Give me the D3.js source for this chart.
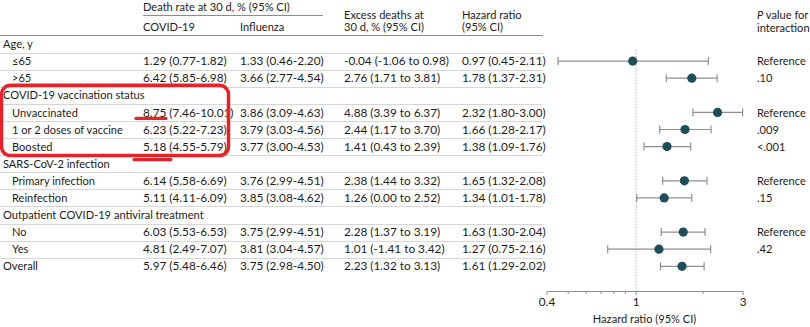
<!DOCTYPE html>
<html><head><meta charset="utf-8">
<script src="https://cdn.jsdelivr.net/npm/d3@7"></script>
<style>
html,body{margin:0;padding:0;background:#fff;}
svg text{font-family:Lato,"Open Sans",sans-serif;fill:#1e1b1c;}
</style></head>
<body><svg id="c" width="810" height="327"></svg>
<script>
// ---- data ----
const rowLabels = ["Age, y","≤65",">65","COVID-19 vaccination status","Unvaccinated","1 or 2 doses of vaccine","Boosted","SARS-CoV-2 infection","Primary infection","Reinfection","Outpatient COVID-19 antiviral treatment","No","Yes","Overall"];
const rowIndented = [false,true,true,false,true,true,true,false,true,true,false,true,true,false];
const covidRate = [null,1.29,6.42,null,8.75,6.23,5.18,null,6.14,5.11,null,6.03,4.81,5.97];
const covidLo   = [null,0.77,5.85,null,7.46,5.22,4.55,null,5.58,4.11,null,5.53,2.49,5.48];
const covidHi   = [null,1.82,6.98,null,10.01,7.23,5.79,null,6.69,6.09,null,6.53,7.07,6.46];
const fluRate = [null,1.33,3.66,null,3.86,3.79,3.77,null,3.76,3.85,null,3.75,3.81,3.75];
const fluLo   = [null,0.46,2.77,null,3.09,3.03,3.00,null,2.99,3.08,null,2.99,3.04,2.98];
const fluHi   = [null,2.20,4.54,null,4.63,4.56,4.53,null,4.51,4.62,null,4.51,4.57,4.50];
const excess   = [null,-0.04,2.76,null,4.88,2.44,1.41,null,2.38,1.26,null,2.28,1.01,2.23];
const excessLo = [null,-1.06,1.71,null,3.39,1.17,0.43,null,1.44,0.00,null,1.37,-1.41,1.32];
const excessHi = [null,0.98,3.81,null,6.37,3.70,2.39,null,3.32,2.52,null,3.19,3.42,3.13];
const hr   = [null,0.97,1.78,null,2.32,1.66,1.38,null,1.65,1.34,null,1.63,1.27,1.61];
const hrLo = [null,0.45,1.37,null,1.80,1.28,1.09,null,1.32,1.01,null,1.30,0.75,1.29];
const hrHi = [null,2.11,2.31,null,3.00,2.17,1.76,null,2.08,1.78,null,2.04,2.16,2.02];
const pValues = [null,"Reference",".10",null,"Reference",".009","<.001",null,"Reference",".15",null,"Reference",".42",null];
const axisTickLabels = [0.4,1,3];
const minorTicks = [0.5,0.6,0.7,0.8,0.9,2];

// ---- layout ----
const svg = d3.select("#c");
const FS = 11.8;
const SX = 0.94; // horizontal condensing for word texts
const f = v => v.toFixed(2);
const rowIdx = d3.range(rowLabels.length);
const y = d3.scaleLinear().domain([0, rowLabels.length-1]).range([44, 266.3]);
const x = d3.scaleLog().domain([0.4,3]).range([546.5,742.6]);
const step = y(1)-y(0);
const tableRight = 543;
const colX = {covid:143, flu:240, exc:344, hr:462, p:757};

function txt(g, xx, yy, s, opts={}) {
  const sx = opts.sx||1;
  const t = g.append("text").attr("x",0).attr("y",0).attr("dy","0.35em")
    .attr("transform",`translate(${xx},${yy}) scale(${sx},1)`)
    .style("font-size",(opts.size||FS)+"px");
  if (s!==null) t.text(s);
  if (opts.anchor) t.attr("text-anchor",opts.anchor);
  return t;
}

// header
const H = svg.append("g");
txt(H, colX.covid, 7, "Death rate at 30 d, % (95% CI)", {sx:SX});
H.append("line").attr("x1",colX.covid).attr("x2",323).attr("y1",15.5).attr("y2",15.5).attr("stroke","#8c8c8c").attr("stroke-width",1);
txt(H, colX.covid, 27, "COVID-19", {sx:SX});
txt(H, colX.flu, 27, "Influenza", {sx:SX});
txt(H, colX.exc, 14.5, "Excess deaths at", {sx:SX});
txt(H, colX.exc, 27, "30 d, % (95% CI)", {sx:SX});
txt(H, colX.hr, 14.5, "Hazard ratio", {sx:SX});
txt(H, colX.hr, 27, "(95% CI)", {sx:SX});
const pt = txt(H, colX.p, 14.5, null, {sx:SX});
pt.append("tspan").style("font-style","italic").text("P");
pt.append("tspan").text(" value for");
txt(H, colX.p, 28, "interaction", {sx:SX});
H.append("line").attr("x1",0).attr("x2",tableRight).attr("y1",35.5).attr("y2",35.5).attr("stroke","#8c8c8c").attr("stroke-width",1);

// separators
svg.append("g").selectAll("line").data(rowIdx.slice(0,-1)).join("line")
  .attr("x1",0).attr("x2",tableRight)
  .attr("y1",i=>Math.round(y(i)+step/2)+0.5).attr("y2",i=>Math.round(y(i)+step/2)+0.5)
  .attr("stroke","#d6d6d6").attr("stroke-width",1);

// table text
const T = svg.append("g");
rowIdx.forEach(i=>{
  const yy = y(i);
  txt(T, rowIndented[i]?12:3, yy, rowLabels[i], {sx:SX});
  if (covidRate[i]!==null) {
    txt(T, colX.covid, yy, `${f(covidRate[i])} (${f(covidLo[i])}-${f(covidHi[i])})`);
    txt(T, colX.flu, yy, `${f(fluRate[i])} (${f(fluLo[i])}-${f(fluHi[i])})`);
    txt(T, colX.exc, yy, `${f(excess[i])} (${f(excessLo[i])} to ${f(excessHi[i])})`);
    txt(T, colX.hr, yy, `${f(hr[i])} (${f(hrLo[i])}-${f(hrHi[i])})`);
  }
  if (pValues[i]) txt(T, colX.p, yy, pValues[i], {sx:SX});
});

// forest plot
const axisY = 291;
svg.append("line").attr("x1",x(1)+0.5).attr("x2",x(1)+0.5).attr("y1",50).attr("y2",axisY)
  .attr("stroke","#b8b8b8").attr("stroke-width",1).attr("stroke-dasharray","1.5,1.5");
const F = svg.append("g");
const fr = rowIdx.filter(i=>hr[i]!==null);
F.selectAll("line.ci").data(fr).join("line").attr("class","ci")
  .attr("x1",i=>x(hrLo[i])).attr("x2",i=>x(hrHi[i])).attr("y1",i=>y(i)).attr("y2",i=>y(i))
  .attr("stroke","#8d9092").attr("stroke-width",1.2);
F.selectAll("line.capl").data(fr).join("line").attr("class","capl")
  .attr("x1",i=>x(hrLo[i])).attr("x2",i=>x(hrLo[i])).attr("y1",i=>y(i)-4).attr("y2",i=>y(i)+4)
  .attr("stroke","#8d9092").attr("stroke-width",1.2);
F.selectAll("line.caph").data(fr).join("line").attr("class","caph")
  .attr("x1",i=>x(hrHi[i])).attr("x2",i=>x(hrHi[i])).attr("y1",i=>y(i)-4).attr("y2",i=>y(i)+4)
  .attr("stroke","#8d9092").attr("stroke-width",1.2);
F.selectAll("circle").data(fr).join("circle")
  .attr("cx",i=>x(hr[i])).attr("cy",i=>y(i)).attr("r",4.6).attr("fill","#1f4e5b");

// axis
const ax = svg.append("g").attr("transform",`translate(0,${axisY})`);
ax.call(d3.axisBottom(x).tickValues(axisTickLabels).tickFormat(d=>String(d)).tickSize(4).tickSizeOuter(0).tickPadding(3));
ax.select(".domain").attr("stroke","#8d9092");
ax.selectAll(".tick line").attr("stroke","#8d9092");
ax.selectAll(".tick text").style("font-size",FS+"px").style("font-family","Lato").attr("fill","#1e1b1c");
ax.selectAll("line.minor").data(minorTicks).join("line").attr("class","minor")
  .attr("x1",d=>x(d)).attr("x2",d=>x(d)).attr("y1",0).attr("y2",3).attr("stroke","#8d9092");
txt(svg, (x.range()[0]+x.range()[1])/2, 319, "Hazard ratio (95% CI)", {anchor:"middle", sx:SX});

// red hand-drawn annotation
const A = svg.append("g").attr("fill","none").attr("stroke","#e3242b").attr("stroke-linecap","round");
A.append("rect").attr("x",1.5).attr("y",y(3)-10).attr("width",227).attr("height",y(6)-y(3)+19)
  .attr("rx",9).attr("stroke-width",3.5);
A.append("line").attr("x1",136).attr("x2",166).attr("y1",y(4)+6).attr("y2",y(4)+6).attr("stroke-width",3.2);
A.append("line").attr("x1",134).attr("x2",171).attr("y1",y(6)+13).attr("y2",y(6)+13).attr("stroke-width",3.2);
</script></body></html>
